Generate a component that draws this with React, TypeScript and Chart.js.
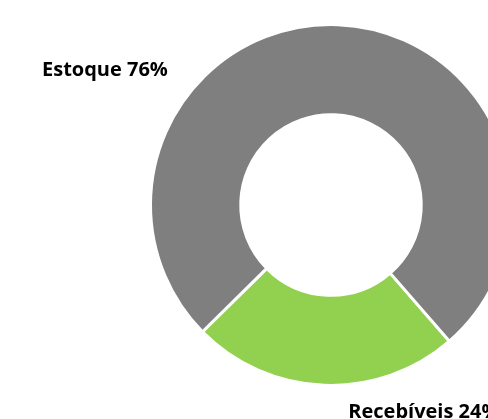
import React, { useEffect, useRef } from "react";
import { Chart, registerables } from "chart.js";

Chart.register(...registerables);

const categories = ["Recebíveis", "Estoque"];
const values = [24, 76];
const colors = ["#92D050", "#7F7F7F"];
const labelTexts = ["Recebíveis 24%", "Estoque 76%"];
// label anchor offsets relative to arc center, in units of outer radius
const labelOffsets = [
  { dx: 0.095, dy: 1.17 },
  { dx: -1.588, dy: -0.709 },
];

const labelPlugin = {
  id: "outerLabels",
  afterDraw(chart: any) {
    const meta = chart.getDatasetMeta(0);
    const ctx = chart.ctx;
    ctx.save();
    ctx.fillStyle = "#000000";
    ctx.font = "bold 20px 'Open Sans'";
    ctx.textAlign = "left";
    ctx.textBaseline = "alphabetic";
    meta.data.forEach((arc: any, i: number) => {
      const { x, y, outerRadius } = arc.getProps(["x", "y", "outerRadius"], true);
      const R = outerRadius + 1.5;
      const off = labelOffsets[i];
      ctx.fillText(labelTexts[i], x + off.dx * R, y + off.dy * R);
    });
    ctx.restore();
  },
};

export default function App() {
  const ref = useRef<HTMLCanvasElement>(null);
  useEffect(() => {
    if (!ref.current) return;
    const chart = new Chart(ref.current, {
      type: "doughnut",
      data: {
        labels: categories,
        datasets: [
          {
            data: values,
            backgroundColor: colors,
            borderColor: "#ffffff",
            borderWidth: 3,
          },
        ],
      },
      options: {
        responsive: false,
        animation: false,
        rotation: 139,
        cutout: "50%",
        layout: { padding: { top: 23, bottom: 32, left: 0, right: 0 } },
        plugins: {
          legend: { display: false },
          tooltip: { enabled: false },
        },
      },
      plugins: [labelPlugin],
    });
    return () => chart.destroy();
  }, []);
  return (
    <div
      style={{
        position: "fixed",
        left: 0,
        top: 0,
        width: 488,
        height: 419,
        overflow: "hidden",
        background: "#ffffff",
      }}
    >
      <canvas ref={ref} width={662} height={419} style={{ display: "block" }} />
    </div>
  );
}
